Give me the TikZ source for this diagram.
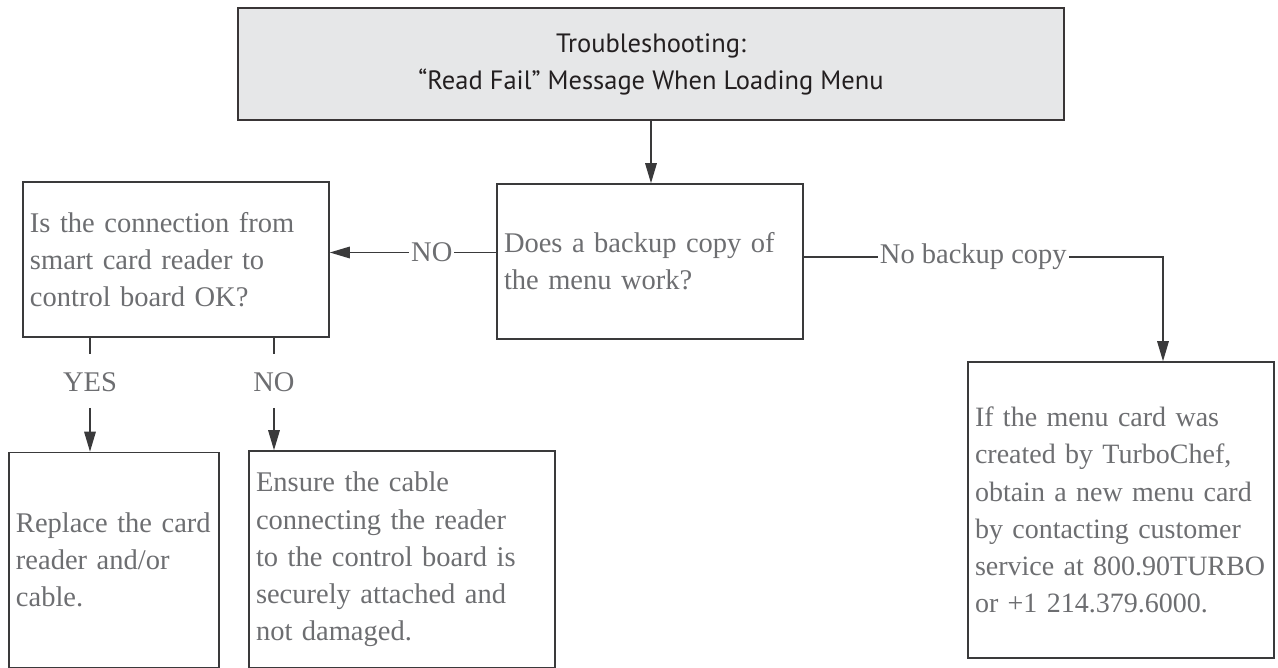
\documentclass[tikz,border=0pt]{standalone}
\usepackage{fontspec}
\setmainfont{Liberation Serif}
\newfontfamily\titlefont{PT Sans}
\usetikzlibrary{arrows.meta,calc}
\definecolor{txtc}{HTML}{6D6E71}
\definecolor{linec}{HTML}{3A3A3B}
\definecolor{ttlfill}{HTML}{E6E7E8}
\definecolor{ttltxt}{HTML}{231F20}
\begin{document}
\begin{tikzpicture}[x=1pt,y=-1pt,
  box/.style={draw=linec,line width=1.5pt,rectangle,inner xsep=7pt,inner ysep=0pt,
    align=left,text=txtc,font=\fontsize{28.5}{37.3}\selectfont,anchor=center},
  conn/.style={draw=linec,line width=1.5pt},
  arr/.style={conn,-{Triangle[length=20pt,width=11.5pt]}},
  lab/.style={text=txtc,font=\fontsize{28.5}{34}\selectfont,inner xsep=2pt,inner ysep=1pt}]
\useasboundingbox (0,0) rectangle (1278,668);

\node[box,fill=ttlfill,text=ttltxt,font=\titlefont\fontsize{26.5}{37}\selectfont,
  align=center,minimum width=826pt,minimum height=112pt,line width=2pt,draw=ttltxt!90] (title) at (651,64)
  {Troubleshooting:\\“Read Fail” Message When Loading Menu};

\node[box,text width=292pt,minimum height=155pt] (backup) at (650,261.5)
  {Does a backup copy of\\the menu work?};
\node[box,text width=292pt,minimum height=155pt] (left) at (176,259.5)
  {Is the connection from\\smart card reader to\\control board OK?};
\node[box,text width=196pt,minimum height=215pt] (replace) at (114,560)
  {Replace the card\\reader and/or\\cable.};
\node[box,text width=292pt,minimum height=217pt] (ensure) at (402,559.5)
  {Ensure the cable\\connecting the reader\\to the control board is\\securely attached and\\not damaged.};
\node[box,text width=292pt,minimum height=296pt,font=\fontsize{28}{37.3}\selectfont] (right) at (1121,510)
  {If the menu card was\\created by TurboChef,\\obtain a new menu card\\by contacting customer\\\mbox{service at 800.90TURBO}\\or +1 214.379.6000.};

\draw[arr] (title.south) -- (title.south |- backup.north);

\draw[arr] ([yshift=9pt]backup.west) -- node[pos=0.387,lab,fill=white] (nolab) {NO}
  ([yshift=9pt]backup.west -| left.east);

\coordinate (c1) at (1163,257);
\draw[arr] ([yshift=4.5pt]backup.east) -- node[pos=0.472,lab,fill=white] (nbc) {No backup copy}
  (c1) -- (c1 |- right.north);

\node[lab] (yes) at (90,382) {YES};
\node[lab] (no2) at (274,382) {NO};
\coordinate (ys) at (90,354);
\coordinate (ns) at (274,354);
\coordinate (ya) at (90,408);
\coordinate (na) at (274,408);
\draw[conn] (left.south -| ys) -- (ys);
\draw[conn] (left.south -| ns) -- (ns);
\draw[arr] (ya) -- (ya |- replace.north);
\draw[arr] (na) -- (na |- ensure.north);
\end{tikzpicture}
\end{document}
